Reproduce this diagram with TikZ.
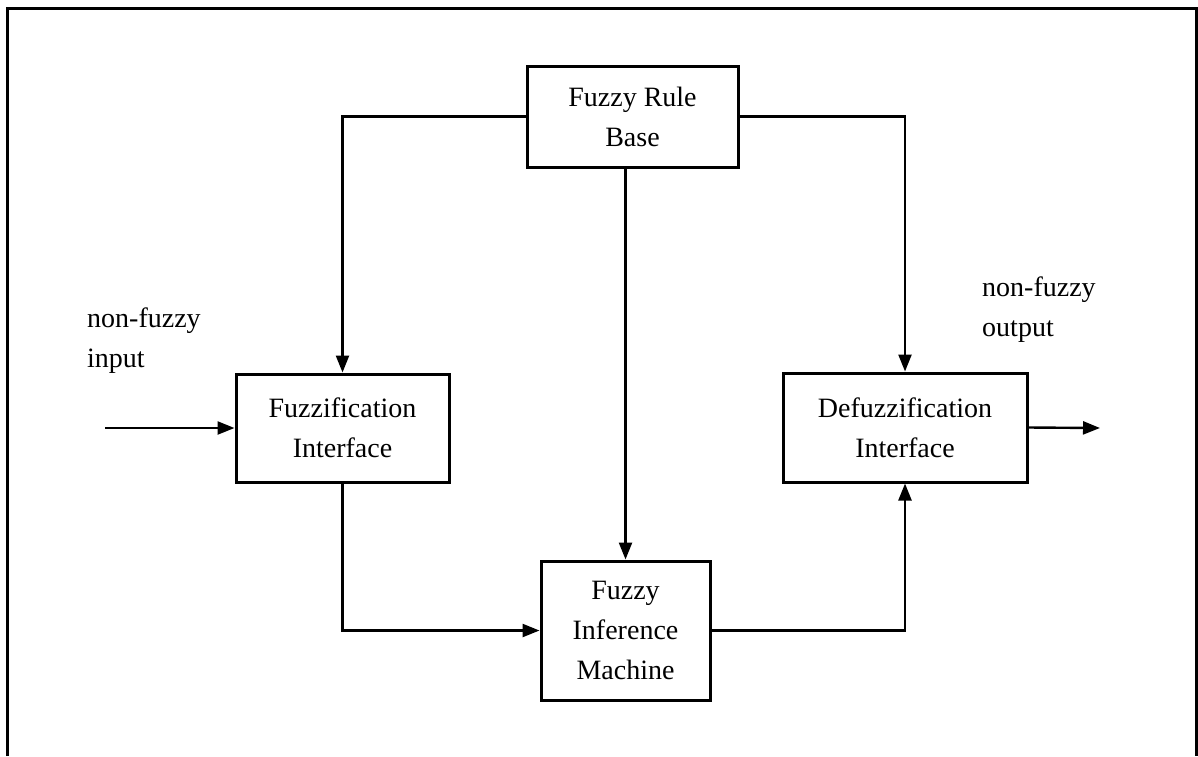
\documentclass[tikz,border=0pt]{standalone}
\usepackage{fontspec}
\setmainfont{Liberation Serif}
\usetikzlibrary{arrows.meta}
\begin{document}
\begin{tikzpicture}[x=1pt,y=-1pt,
  blk/.style={draw, line width=3pt, align=center, inner sep=0pt,
    font=\fontsize{28}{40}\selectfont},
  conn/.style={line width=2.4pt, -{Triangle[length=17pt,width=13pt]}},
  lbl/.style={align=left, inner sep=0pt, anchor=north west,
    font=\fontsize{28}{40}\selectfont}]
\useasboundingbox (0,0) rectangle (1198,756);
\draw[line width=3pt] (7,756) -- (7,8) -- (1196,8) -- (1196,756);
\node[blk, minimum width=211pt, minimum height=101pt] (rb) at (632.5,116.5) {Fuzzy Rule\\Base};
\node[blk, minimum width=213pt, minimum height=108pt] (fz) at (342.5,428) {Fuzzification\\Interface};
\node[blk, minimum width=244pt, minimum height=109pt] (dz) at (905,427.5) {Defuzzification\\Interface};
\node[blk, minimum width=169pt, minimum height=139pt] (inf) at (625.5,630.5) {Fuzzy\\Inference\\Machine};
\node[lbl] (lin) at (87,308) {non-fuzzy\\input};
\node[lbl] (lout) at (982,277) {non-fuzzy\\output};
\coordinate (inx) at (105,428);
\coordinate (outx) at (1100,428);
\draw[conn] (rb.west) -| (fz.north);
\draw[conn] (rb.east) -| (dz.north);
\draw[conn] (inf.north |- rb.south) -- (inf.north);
\draw[conn] (fz.south) |- (inf.west);
\draw[conn] (inf.east) -| (dz.south);
\draw[conn] (inx) -- (fz.west);
\draw[conn] (dz.east) -- (outx);
\end{tikzpicture}
\end{document}
